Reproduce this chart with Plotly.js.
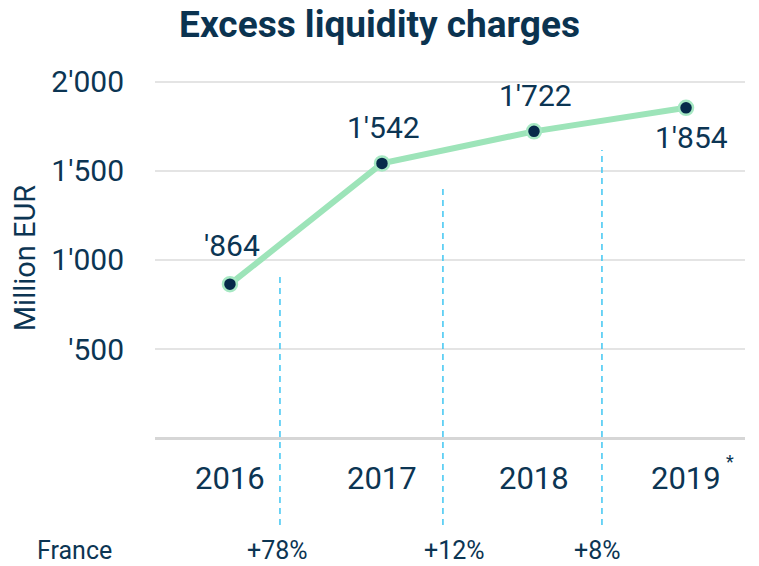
<!DOCTYPE html>
<html>
<head>
<meta charset="utf-8">
<script src="https://cdn.plot.ly/plotly-3.0.1.min.js"></script>
<style>html,body{margin:0;padding:0;background:#fff;}#chart{width:759px;height:566px;}</style>
</head>
<body>
<div id="chart"></div>
<script>
// ---- data ----
var years = ['2016', '2017', '2018', '2019'];
var values = [864, 1542, 1722, 1854];
var valueLabels = ["'864", "1'542", "1'722", "1'854"];
var yTickVals = [0, 500, 1000, 1500, 2000];
var yTickText = ['', "'500", "1'000", "1'500", "2'000"];
var growthLabels = ['+78%', '+12%', '+8%'];
var growthX = [0.316, 1.48, 2.42];
var dividerX = [0.329, 1.401, 2.447];
var dividerTop = [932, 1403, 1617];
var rowLabel = 'France';
var yTitle = 'Million EUR';
var footMark = '*';

var navy = '#0c3553';
var font = 'Roboto, "Open Sans", sans-serif';
var xIdx = years.map(function (d, i) { return i; });

var trace = {
  x: xIdx,
  y: values,
  type: 'scatter',
  mode: 'lines+markers',
  line: { color: '#9de4b9', width: 6 },
  marker: { size: 14, color: '#06294a', line: { color: '#a6e8c3', width: 2.5 } },
  hoverinfo: 'skip',
  cliponaxis: false
};

var annotations = [];
values.forEach(function (v, i) {
  var below = (i === values.length - 1);
  annotations.push({
    x: xIdx[i], y: v, xref: 'x', yref: 'y',
    text: valueLabels[i], showarrow: false,
    xshift: below ? 5 : 2,
    yshift: below ? -30 : (i === 0 ? 39 : 36),
    font: { family: font, size: 30, color: navy }
  });
});
years.forEach(function (yr, i) {
  annotations.push({
    x: xIdx[i], y: -225, xref: 'x', yref: 'y',
    text: yr, showarrow: false,
    font: { family: font, size: 31, color: navy }
  });
});
annotations.push({
  x: xIdx[3], y: -225, xref: 'x', yref: 'y', text: footMark, showarrow: false,
  xshift: 44, yshift: 17, font: { family: font, size: 18, color: navy }
});
growthLabels.forEach(function (g, i) {
  annotations.push({
    x: growthX[i], y: -0.012, xref: 'x', yref: 'paper', yanchor: 'middle', xanchor: 'center',
    text: g, showarrow: false,
    font: { family: font, size: 25, color: navy }
  });
});
annotations.push({
  x: -0.1356, y: -0.012, xref: 'paper', yref: 'paper', yanchor: 'middle', xanchor: 'center',
  text: rowLabel, showarrow: false,
  font: { family: font, size: 25, color: navy }
});
annotations.push({
  x: -0.2203, y: 1010, xref: 'paper', yref: 'y', xanchor: 'center', yanchor: 'middle',
  text: yTitle, showarrow: false, textangle: -90,
  font: { family: font, size: 29, color: navy }
});

var shapes = dividerX.map(function (xv, i) {
  return {
    type: 'line', xref: 'x', yref: 'y',
    x0: xv, x1: xv, y0: -488, y1: dividerTop[i],
    line: { color: '#3fc6f2', width: 1.5, dash: '6px,5px' },
    layer: 'above'
  };
});

var layout = {
  width: 759, height: 566,
  margin: { l: 155, r: 14, t: 64, b: 21 },
  paper_bgcolor: '#ffffff', plot_bgcolor: '#ffffff',
  showlegend: false,
  title: {
    text: '<b>Excess liquidity charges</b>',
    font: { family: font, size: 37, color: '#0b3350' },
    x: 0.5, xanchor: 'center', xref: 'container',
    y: 0.957, yanchor: 'middle', yref: 'container'
  },
  xaxis: {
    range: [-0.493, 3.388],
    showgrid: false, zeroline: false, showline: false,
    showticklabels: false, ticks: '', fixedrange: true
  },
  yaxis: {
    range: [-600, 2100],
    tickvals: yTickVals, ticktext: yTickText,
    showgrid: true, gridcolor: '#e4e4e4', gridwidth: 2,
    zeroline: true, zerolinecolor: '#d6d6d6', zerolinewidth: 3,
    showline: false, ticks: '',
    ticklabelstandoff: 30,
    tickfont: { family: font, size: 30, color: navy },
    fixedrange: true
  },
  annotations: annotations,
  shapes: shapes
};

Plotly.newPlot('chart', [trace], layout, { displayModeBar: false, staticPlot: true });
</script>
</body>
</html>
